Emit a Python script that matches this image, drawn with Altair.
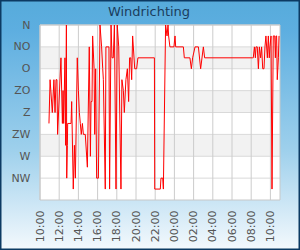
import altair as alt
import pandas as pd

# ---- data ----
times = [
    "10:56", "11:03", "11:17", "11:27", "11:34", "11:40", "11:46", "11:50", "12:11", "12:20",
    "12:24", "12:28", "12:36", "12:40", "12:45", "12:47", "12:51", "12:53", "13:14", "13:18",
    "13:28", "13:35", "13:41", "13:53", "14:00", "14:06", "14:12", "14:18", "14:25", "14:31",
    "14:43", "14:56", "15:08", "15:15", "15:19", "15:25", "15:29", "15:38", "15:42", "15:48",
    "15:54", "16:05", "16:15", "16:25", "16:32", "16:36", "16:48", "16:52", "17:11", "17:15",
    "17:24", "17:30", "17:38", "17:45", "17:55", "18:03", "18:12", "18:26", "18:32", "18:41",
    "18:47", "18:57", "19:06", "19:14", "19:20", "19:27", "19:33", "19:39", "19:52", "20:04",
    "20:12", "21:55", "21:57", "22:32", "22:36", "22:47", "22:51", "23:05", "23:14", "23:20",
    "23:24", "23:32", "23:57", "00:04", "00:08", "00:56", "01:02", "01:37", "01:46", "01:54",
    "02:09", "02:30", "02:44", "03:01", "03:09", "08:09", "08:13", "08:20", "08:26", "08:30",
    "08:38", "08:45", "08:51", "08:59", "09:05", "09:12", "09:20", "09:26", "09:32", "09:41",
    "09:47", "09:53", "09:57", "10:04", "10:10", "10:18", "10:27", "10:31", "10:35", "10:39",
    "10:43", "10:50", "10:54",
]
directions = [
    202.5, 112.5, 180, 112.5, 180, 112.5, 112.5, 225, 67.5, 202.5,
    135, 202.5, 67.5, 247.5, 0, 315, 247.5, 202.5, 202.5, 157.5,
    337.5, 247.5, 315, 67.5, 135, 180, 202.5, 225, 202.5, 225,
    225, 292.5, 45, 270, 157.5, 157.5, 22.5, 90, 225, 90,
    315, 315, 0, 45, 90, 112.5, 337.5, 45, 45, 337.5,
    0, 67.5, 67.5, 0, 337.5, 0, 45, 337.5, 112.5, 135,
    180, 112.5, 90, 157.5, 67.5, 67.5, 112.5, 22.5, 90, 90,
    67.5, 67.5, 337.5, 337.5, 315, 315, 337.5, 0, 22.5, 0,
    22.5, 45, 45, 22.5, 45, 45, 67.5, 67.5, 90, 67.5,
    45, 45, 90, 45, 67.5, 67.5, 67.5, 45, 67.5, 45,
    45, 90, 45, 67.5, 45, 90, 90, 45, 22.5, 67.5,
    22.5, 67.5, 45, 22.5, 337.5, 22.5, 22.5, 67.5, 22.5, 22.5,
    112.5, 67.5, 22.5,
]
tick_labels = ["10:00", "12:00", "14:00", "16:00", "18:00", "20:00", "22:00",
               "00:00", "02:00", "04:00", "06:00", "08:00", "10:00"]
dir_values = [0, 45, 90, 135, 180, 225, 270, 315]
dir_labels = ["N", "NO", "O", "ZO", "Z", "ZW", "W", "NW"]
band_start = [45, 135, 225]
band_end = [90, 180, 270]
START_HOUR = 10
END_HOURS = 25  # axis runs from 10:00 to 11:00 the next day


def hours_since_start(tlist):
    out, day, prev = [], 0, None
    for t in tlist:
        h, m = map(int, t.split(":"))
        mins = h * 60 + m
        if prev is not None and mins < prev:
            day += 1
        prev = mins
        out.append(day * 24 + mins / 60 - START_HOUR)
    return out


line_df = pd.DataFrame({"t": hours_since_start(times), "dir": directions})
tick_hours = hours_since_start(tick_labels)
grid_df = pd.DataFrame({"t": tick_hours})
ygrid_df = pd.DataFrame({"dir": dir_values})
band_df = pd.DataFrame({"start": band_start, "end": band_end})
one = pd.DataFrame({"a": [0]})

W, H = 240, 175
FONT = "DejaVu Sans"

x_scale = alt.Scale(domain=[0, END_HOURS], nice=False, zero=False)
y_scale = alt.Scale(domain=[0, 360], reverse=True, nice=False, zero=False)

y_label_expr = "[" + ",".join("'%s'" % s for s in dir_labels) + "][round(datum.value/45)]"
x_label_expr = "[" + ",".join("'%s'" % s for s in tick_labels) + "][round(datum.value/2)]"

x_axis = alt.Axis(title=None, values=tick_hours, labelExpr=x_label_expr,
                  labelAngle=-90, labelPadding=10, labelFont=FONT, labelFontSize=11,
                  labelColor="#555555", domain=False, ticks=False, tickSize=0,
                  grid=False, zindex=1, labelOverlap=False, labelBound=False,
                  labelFlush=False)
y_axis = alt.Axis(title=None, values=dir_values, labelExpr=y_label_expr, labelPadding=10,
                  labelFont=FONT, labelFontSize=11, labelColor="#555555", domain=False,
                  ticks=False, tickSize=0, grid=False, zindex=1, labelFlush=False,
                  labelOverlap=False)

gradient = alt.Gradient(
    gradient="linear",
    stops=[alt.GradientStop(color="#56abdb", offset=0),
           alt.GradientStop(color="#5daee0", offset=0.12),
           alt.GradientStop(color="#9ed0ec", offset=0.6),
           alt.GradientStop(color="#f4f9fd", offset=1)],
    x1=0, x2=0, y1=0, y2=1,
)

bg = alt.Chart(one).mark_rect(fill=gradient, stroke="#0c3a63", strokeWidth=3).encode(
    x=alt.value(-40), x2=alt.value(W + 20), y=alt.value(-25), y2=alt.value(H + 50))

plot_bg = alt.Chart(one).mark_rect(fill="white").encode(
    x=alt.value(0), x2=alt.value(W), y=alt.value(0), y2=alt.value(H))

bands = alt.Chart(band_df).mark_rect(color="#f2f2f2").encode(
    x=alt.value(0), x2=alt.value(W),
    y=alt.Y("start:Q", scale=y_scale, axis=y_axis), y2="end:Q")

ygrid = alt.Chart(ygrid_df).mark_rule(color="#d9d9d9", strokeWidth=1).encode(
    y=alt.Y("dir:Q", scale=y_scale, axis=y_axis))

xgrid = alt.Chart(grid_df).mark_rule(color="#cccccc", strokeWidth=1).encode(
    x=alt.X("t:Q", scale=x_scale, axis=x_axis))

border = alt.Chart(one).mark_rect(fill=None, stroke="#c8c8c8", strokeWidth=1).encode(
    x=alt.value(0), x2=alt.value(W), y=alt.value(0), y2=alt.value(H))

line = alt.Chart(line_df).mark_line(color="#ff0000", strokeWidth=1).encode(
    x=alt.X("t:Q", scale=x_scale, axis=x_axis),
    y=alt.Y("dir:Q", scale=y_scale, axis=y_axis))

title = alt.Chart(one).mark_text(text="Windrichting", font=FONT, fontSize=13,
                                 color="#1b3d5e", align="center",
                                 baseline="alphabetic").encode(
    x=alt.value(109), y=alt.value(-9))

chart = alt.layer(bg, plot_bg, bands, ygrid, xgrid, border, line, title).properties(
    width=W, height=H, autosize="none",
    padding={"left": 40, "top": 25, "right": 20, "bottom": 50},
).configure_view(stroke=None).configure(background="white")

chart.save("out.html", embed_options={"renderer": "svg", "actions": False})
